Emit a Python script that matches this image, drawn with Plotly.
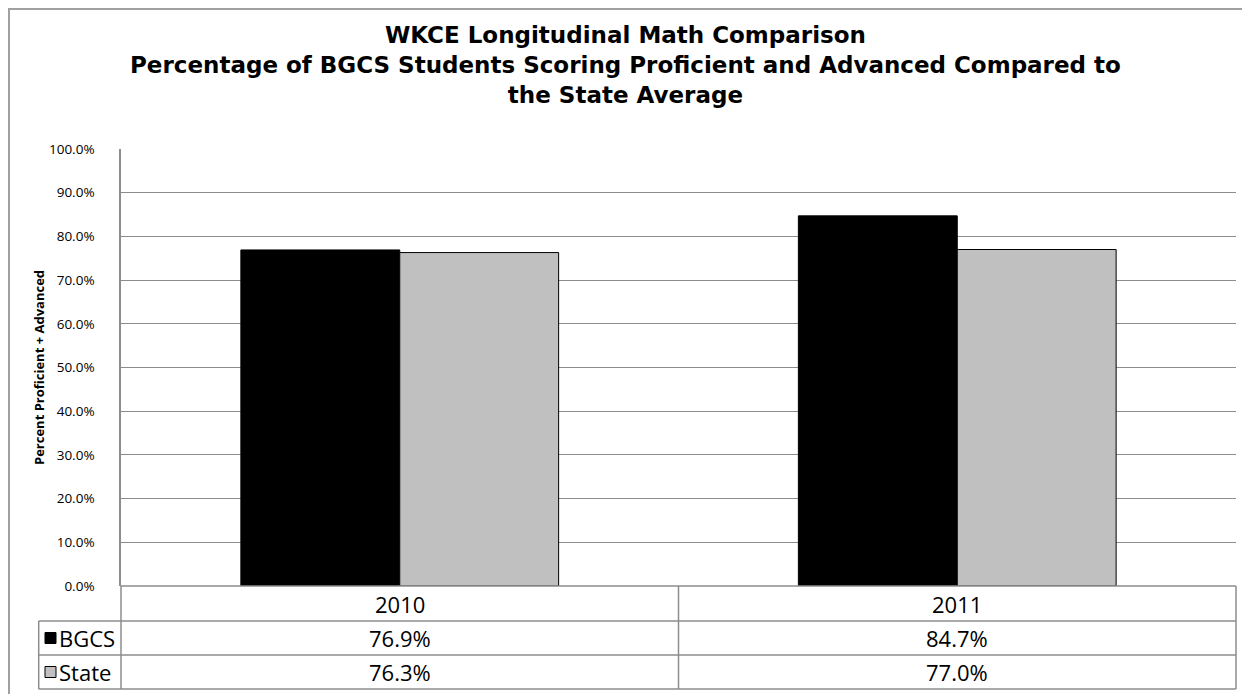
import plotly.graph_objects as go

# ---- data ----
years = ["2010", "2011"]
bgcs = [0.769, 0.847]
state = [0.763, 0.770]
series_names = ["BGCS", "State"]
series_colors = ["#000000", "#C0C0C0"]
title_lines = [
    "WKCE Longitudinal Math Comparison",
    "Percentage of BGCS Students Scoring Proficient and Advanced Compared to",
    "the State Average",
]
y_title = "Percent Proficient + Advanced"

OFF = 8  # page body margin
W, H = 1250 - OFF, 694 - OFF
# plot area in page pixels
PL, PR, PT, PB = 121 - OFF, 1236 - OFF, 149 - OFF, 586 - OFF


def px(x):
    """page x pixel -> paper coordinate"""
    return (x - OFF - PL) / (PR - PL)


def py(y):
    """page y pixel -> paper coordinate"""
    return (PB - (y - OFF)) / (PB - PT)


FONT = "Open Sans"
fig = go.Figure()
for name, vals, col in zip(series_names, [bgcs, state], series_colors):
    fig.add_trace(go.Bar(
        x=years, y=vals, name=name,
        marker=dict(color=col, line=dict(color="#000000", width=1)),
        hoverinfo="skip",
    ))

shapes = []
grey = "#8C8C8C"
# outer chart border (top/left visible)
shapes.append(dict(type="rect", xref="paper", yref="paper",
                   x0=px(9), x1=px(1300), y0=py(9), y1=py(750),
                   line=dict(color="#A0A0A0", width=2), layer="below"))
# table lines
rows_y = [586, 621, 655, 689]
shapes.append(dict(type="line", xref="paper", yref="paper", x0=px(121), x1=px(1236),
                   y0=py(586), y1=py(586), line=dict(color=grey, width=1.5)))
for yy in rows_y[1:]:
    shapes.append(dict(type="line", xref="paper", yref="paper", x0=px(38.7), x1=px(1236),
                       y0=py(yy), y1=py(yy), line=dict(color=grey, width=1.5)))
for xx in [121, 678.5, 1236]:
    shapes.append(dict(type="line", xref="paper", yref="paper", x0=px(xx), x1=px(xx),
                       y0=py(586), y1=py(689), line=dict(color=grey, width=1.5)))
shapes.append(dict(type="line", xref="paper", yref="paper", x0=px(38.7), x1=px(38.7),
                   y0=py(621), y1=py(689), line=dict(color=grey, width=1.5)))

annotations = []
TS = 22
col_centers = [(121 + 678.5) / 2, (678.5 + 1236) / 2]
for cx, yr in zip(col_centers, years):
    annotations.append(dict(xref="paper", yref="paper", x=px(cx), y=py(603.5), text=yr,
                            showarrow=False, xanchor="center", yanchor="middle",
                            font=dict(family=FONT, size=TS, color="#000")))
row_centers = [638, 672]
for rc, name, vals, col in zip(row_centers, series_names, [bgcs, state], series_colors):
    shapes.append(dict(type="rect", xref="paper", yref="paper",
                       x0=px(45), x1=px(56), y0=py(rc - 5.5), y1=py(rc + 5.5),
                       fillcolor=col, line=dict(color="#000", width=1)))
    annotations.append(dict(xref="paper", yref="paper", x=px(57), y=py(rc), text=name,
                            showarrow=False, xanchor="left", yanchor="middle",
                            font=dict(family=FONT, size=TS, color="#000")))
    for cx, v in zip(col_centers, vals):
        annotations.append(dict(xref="paper", yref="paper", x=px(cx), y=py(rc),
                                text=f"{v * 100:.1f}%", showarrow=False,
                                xanchor="center", yanchor="middle",
                                font=dict(family=FONT, size=TS, color="#000")))
# title (one text block, three lines)
annotations.append(dict(xref="paper", yref="paper", x=px(625), y=py(65),
                        text="<br>".join(f"<b>{t}</b>" for t in title_lines),
                        showarrow=False, xanchor="center", yanchor="middle",
                        align="center",
                        font=dict(family="DejaVu Sans", size=23, color="#000")))
# y title
annotations.append(dict(xref="paper", yref="paper", x=px(39), y=py(368),
                        text=f"<b>{y_title}</b>", showarrow=False, textangle=-90,
                        xanchor="center", yanchor="middle",
                        font=dict(family=FONT, size=13, color="#000")))

fig.update_layout(
    width=W, height=H,
    margin=dict(l=PL, r=W - PR, t=PT, b=H - PB, pad=0),
    paper_bgcolor="white", plot_bgcolor="white",
    barmode="group", bargap=0.43, bargroupgap=0,
    showlegend=False,
    shapes=shapes, annotations=annotations,
    font=dict(family=FONT, color="#000"),
)
fig.update_yaxes(range=[0, 1], dtick=0.1, tickformat=".1%",
                 showgrid=True, gridcolor=grey, gridwidth=1,
                 showline=True, linecolor=grey, linewidth=1.5,
                 ticks="", ticklabelstandoff=22,
                 tickfont=dict(family=FONT, size=13.5, color="#000"),
                 zeroline=False)
fig.update_xaxes(showticklabels=False, showline=False, showgrid=False, ticks="")

fig.write_html("out.html")
